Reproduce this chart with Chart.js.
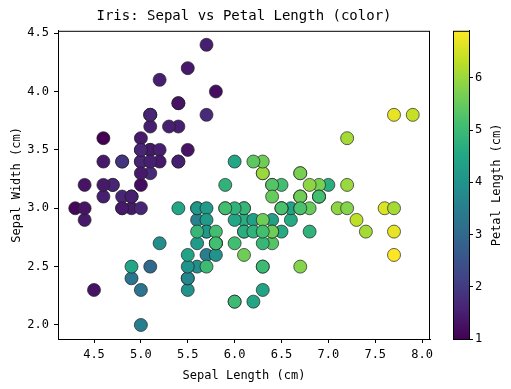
<!DOCTYPE html>
<html>
<head>
<meta charset="utf-8">
<script src="https://cdn.jsdelivr.net/npm/chart.js@4/dist/chart.umd.min.js"></script>
<style>
  html, body { margin: 0; padding: 0; background: #fff; }
  #wrap { width: 511px; height: 389px; position: relative; }
</style>
</head>
<body>
<div id="wrap"><canvas id="chart"></canvas></div>
<script>
// Iris data: sepal length, sepal width, petal length (colour)
const sepalLength = [
  5.1,4.9,4.7,4.6,5.0,5.4,4.6,5.0,4.4,4.9,5.4,4.8,4.8,4.3,5.8,5.7,5.4,5.1,5.7,5.1,
  5.4,5.1,4.6,5.1,4.8,5.0,5.0,5.2,5.2,4.7,4.8,5.4,5.2,5.5,4.9,5.0,5.5,4.9,4.4,5.1,
  5.0,4.5,4.4,5.0,5.1,4.8,5.1,4.6,5.3,5.0,
  7.0,6.4,6.9,5.5,6.5,5.7,6.3,4.9,6.6,5.2,5.0,5.9,6.0,6.1,5.6,6.7,5.6,5.8,6.2,5.6,
  5.9,6.1,6.3,6.1,6.4,6.6,6.8,6.7,6.0,5.7,5.5,5.5,5.8,6.0,5.4,6.0,6.7,6.3,5.6,5.5,
  5.5,6.1,5.8,5.0,5.6,5.7,5.7,6.2,5.1,5.7,
  6.3,5.8,7.1,6.3,6.5,7.6,4.9,7.3,6.7,7.2,6.5,6.4,6.8,5.7,5.8,6.4,6.5,7.7,7.7,6.0,
  6.9,5.6,7.7,6.3,6.7,7.2,6.2,6.1,6.4,7.2,7.4,7.9,6.4,6.3,6.1,7.7,6.3,6.4,6.0,6.9,
  6.7,6.9,5.8,6.8,6.7,6.7,6.3,6.5,6.2,5.9
];
const sepalWidth = [
  3.5,3.0,3.2,3.1,3.6,3.9,3.4,3.4,2.9,3.1,3.7,3.4,3.0,3.0,4.0,4.4,3.9,3.5,3.8,3.8,
  3.4,3.7,3.6,3.3,3.4,3.0,3.4,3.5,3.4,3.2,3.1,3.4,4.1,4.2,3.1,3.2,3.5,3.1,3.0,3.4,
  3.5,2.3,3.2,3.5,3.8,3.0,3.8,3.2,3.7,3.3,
  3.2,3.2,3.1,2.3,2.8,2.8,3.3,2.4,2.9,2.7,2.0,3.0,2.2,2.9,2.9,3.1,3.0,2.7,2.2,2.5,
  3.2,2.8,2.5,2.8,2.9,3.0,2.8,3.0,2.9,2.6,2.4,2.4,2.7,2.7,3.0,3.4,3.1,2.3,3.0,2.5,
  2.6,3.0,2.6,2.3,2.7,3.0,2.9,2.9,2.5,2.8,
  3.3,2.7,3.0,2.9,3.0,3.0,2.5,2.9,2.5,3.6,3.2,2.7,3.0,2.5,2.8,3.2,3.0,3.8,2.6,2.2,
  3.2,2.8,2.8,2.7,3.3,3.2,2.8,3.0,2.8,3.0,2.8,3.8,2.8,2.8,2.6,3.0,3.4,3.1,3.0,3.1,
  3.1,3.1,2.7,3.2,3.3,3.0,2.5,3.0,3.4,3.0
];
const petalLength = [
  1.4,1.4,1.3,1.5,1.4,1.7,1.4,1.5,1.4,1.5,1.5,1.6,1.4,1.1,1.2,1.5,1.3,1.4,1.7,1.5,
  1.7,1.5,1.0,1.7,1.9,1.6,1.6,1.5,1.4,1.6,1.6,1.5,1.5,1.4,1.5,1.2,1.3,1.5,1.3,1.5,
  1.3,1.3,1.3,1.6,1.9,1.4,1.6,1.4,1.5,1.4,
  4.7,4.5,4.9,4.0,4.6,4.5,4.7,3.3,4.6,3.9,3.5,4.2,4.0,4.7,3.6,4.4,4.5,4.1,4.5,3.9,
  4.8,4.0,4.9,4.7,4.3,4.4,4.8,5.0,4.5,3.5,3.8,3.7,3.9,5.1,4.5,4.5,4.7,4.4,4.1,4.0,
  4.4,4.6,4.0,3.3,4.2,4.2,4.2,4.3,3.0,4.1,
  6.0,5.1,5.9,5.6,5.8,6.6,4.5,6.3,5.8,6.1,5.1,5.3,5.5,5.0,5.1,5.3,5.5,6.7,6.9,5.0,
  5.7,4.9,6.7,4.9,5.7,6.0,4.8,4.9,5.6,5.8,6.1,6.4,5.6,5.1,5.6,6.1,5.6,5.5,4.8,5.4,
  5.6,5.1,5.1,5.9,5.7,5.2,5.0,5.2,5.4,5.1
];

const xTicks = [4.5, 5.0, 5.5, 6.0, 6.5, 7.0, 7.5, 8.0];
const yTicks = [2.0, 2.5, 3.0, 3.5, 4.0, 4.5];
const cbTicks = [1, 2, 3, 4, 5, 6];

const FONT = '"DejaVu Sans Mono", monospace';
const cMin = Math.min(...petalLength);
const cMax = Math.max(...petalLength);

// viridis colormap stops
const viridis = ['#440154','#482475','#414487','#355f8d','#2a788e','#21918c',
                 '#22a884','#44bf70','#7ad151','#bddf26','#fde725'];

function hexToRgb(h) {
    return [parseInt(h.slice(1,3),16), parseInt(h.slice(3,5),16), parseInt(h.slice(5,7),16)];
}
function viridisAt(t) {
    t = Math.max(0, Math.min(1, t));
    const p = t * (viridis.length - 1);
    const i = Math.min(Math.floor(p), viridis.length - 2);
    const f = p - i;
    const a = hexToRgb(viridis[i]), b = hexToRgb(viridis[i + 1]);
    const c = a.map((v, k) => Math.round(v + (b[k] - v) * f));
    return `rgb(${c[0]},${c[1]},${c[2]})`;
}

const points = sepalLength.map((x, i) => ({ x: x, y: sepalWidth[i] }));
const colors = petalLength.map(v => viridisAt((v - cMin) / (cMax - cMin)));

// frame around plot + colorbar gradient and its label
const extras = {
    id: 'extras',
    afterDraw(chart) {
        const ctx = chart.ctx;
        const a = chart.chartArea;
        const cb = chart.scales.cb;
        ctx.save();
        ctx.strokeStyle = '#000';
        ctx.lineWidth = 1;
        ctx.strokeRect(a.left + 0.5, a.top + 0.5, a.right - a.left - 1, a.bottom - a.top);

        const x0 = cb.left - 16;
        const grad = ctx.createLinearGradient(0, cb.bottom, 0, cb.top);
        viridis.forEach((c, i) => grad.addColorStop(i / (viridis.length - 1), c));
        ctx.fillStyle = grad;
        ctx.fillRect(x0, cb.top, 16, cb.bottom - cb.top);
        ctx.strokeRect(x0 + 0.5, cb.top + 0.5, 16, cb.bottom - cb.top);

        ctx.translate(cb.left + 28, (cb.top + cb.bottom) / 2);
        ctx.rotate(-Math.PI / 2);
        ctx.fillStyle = '#000';
        ctx.font = '12px ' + FONT;
        ctx.textAlign = 'center';
        ctx.textBaseline = 'middle';
        ctx.fillText('Petal Length (cm)', 0, 0);
        ctx.restore();
    }
};

new Chart(document.getElementById('chart'), {
    type: 'scatter',
    data: {
        datasets: [{
            data: points,
            pointRadius: 6.5,
            pointHoverRadius: 6.5,
            pointBackgroundColor: colors,
            pointBorderColor: '#222',
            pointBorderWidth: 0.7
        }]
    },
    options: {
        responsive: true,
        maintainAspectRatio: false,
        animation: false,
        events: [],
        layout: { padding: 0 },
        plugins: {
            legend: { display: false },
            tooltip: { enabled: false },
            title: {
                display: true,
                text: 'Iris: Sepal vs Petal Length (color)',
                fullSize: false,
                color: '#000',
                font: { family: FONT, size: 14, weight: 'normal' },
                padding: { top: 8, bottom: 6 }
            }
        },
        scales: {
            x: {
                type: 'linear',
                min: 4.116,
                max: 8.084,
                afterBuildTicks: s => { s.ticks = xTicks.map(v => ({ value: v })); },
                afterFit: s => { s.height = 50; },
                grid: { drawOnChartArea: false, tickLength: 4, color: '#000' },
                border: { color: '#000' },
                ticks: {
                    color: '#000', padding: 5,
                    font: { family: FONT, size: 12 },
                    callback: v => v.toFixed(1)
                },
                title: {
                    display: true, text: 'Sepal Length (cm)', color: '#000',
                    font: { family: FONT, size: 12 }, padding: { top: 0, bottom: 6 }
                }
            },
            y: {
                type: 'linear',
                min: 1.88,
                max: 4.52,
                afterBuildTicks: s => { s.ticks = yTicks.map(v => ({ value: v })); },
                afterFit: s => { s.width = 58; },
                grid: { drawOnChartArea: false, tickLength: 4, color: '#000' },
                border: { color: '#000' },
                ticks: {
                    color: '#000', padding: 5,
                    font: { family: FONT, size: 12 },
                    callback: v => v.toFixed(1)
                },
                title: {
                    display: true, text: 'Sepal Width (cm)', color: '#000',
                    font: { family: FONT, size: 12 }, padding: { top: 10, bottom: 0 }
                }
            },
            gap: {
                type: 'linear',
                position: 'right',
                weight: 0,
                min: 0, max: 1,
                afterFit: s => { s.width = 39; },
                grid: { display: false },
                border: { display: false },
                ticks: { display: false }
            },
            cb: {
                type: 'linear',
                position: 'right',
                weight: 1,
                min: cMin,
                max: cMax,
                afterBuildTicks: s => { s.ticks = cbTicks.map(v => ({ value: v })); },
                afterFit: s => { s.width = 42; },
                grid: { drawOnChartArea: false, tickLength: 4, color: '#000' },
                border: { color: '#000' },
                ticks: {
                    color: '#000', padding: 2,
                    font: { family: FONT, size: 12 },
                    callback: v => String(v)
                }
            }
        }
    },
    plugins: [extras]
});
</script>
</body>
</html>
